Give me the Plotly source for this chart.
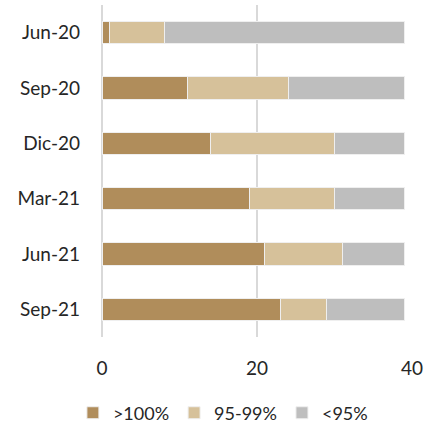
import plotly.graph_objects as go

categories = ["Jun-20", "Sep-20", "Dic-20", "Mar-21", "Jun-21", "Sep-21"]
over_100 = [1, 11, 14, 19, 21, 23]
pct_95_99 = [7, 13, 16, 11, 10, 6]
under_95 = [31, 15, 9, 9, 8, 10]
series_names = [">100%", "95-99%", "<95%"]
colors = ["#B08D5B", "#D6C19A", "#BEBEBE"]

fig = go.Figure()
for name, vals, col in zip(series_names, [over_100, pct_95_99, under_95], colors):
    fig.add_trace(go.Bar(
        y=categories, x=vals, name=name, orientation="h",
        marker=dict(color=col, line=dict(color="#EFEFEF", width=1)),
    ))

font = "Lato, 'Open Sans', sans-serif"
fig.update_layout(
    barmode="stack",
    bargap=0.6,
    width=427, height=428,
    margin=dict(l=102, r=15, t=5, b=91),
    plot_bgcolor="white", paper_bgcolor="white",
    font=dict(family=font, size=19, color="#262626"),
    showlegend=True,
    legend=dict(orientation="h", x=0.39, xanchor="center",
                yref="container", y=0.035, yanchor="middle",
                font=dict(size=18), traceorder="normal", itemwidth=30),
    xaxis=dict(range=[0, 40], tickvals=[0, 20, 40], showgrid=True,
               gridcolor="#D9D9D9", gridwidth=2, zeroline=True,
               zerolinecolor="#D9D9D9", zerolinewidth=2, automargin=False,
               ticks="", ticklabelstandoff=18, fixedrange=True),
    yaxis=dict(categoryorder="array", categoryarray=categories[::-1], automargin=False,
               showgrid=False, ticks="", ticklabelstandoff=21, fixedrange=True),
)
fig.write_html("out.html", config={"displayModeBar": False},
               post_script="document.body.style.margin='0';document.body.style.overflow='hidden';")
